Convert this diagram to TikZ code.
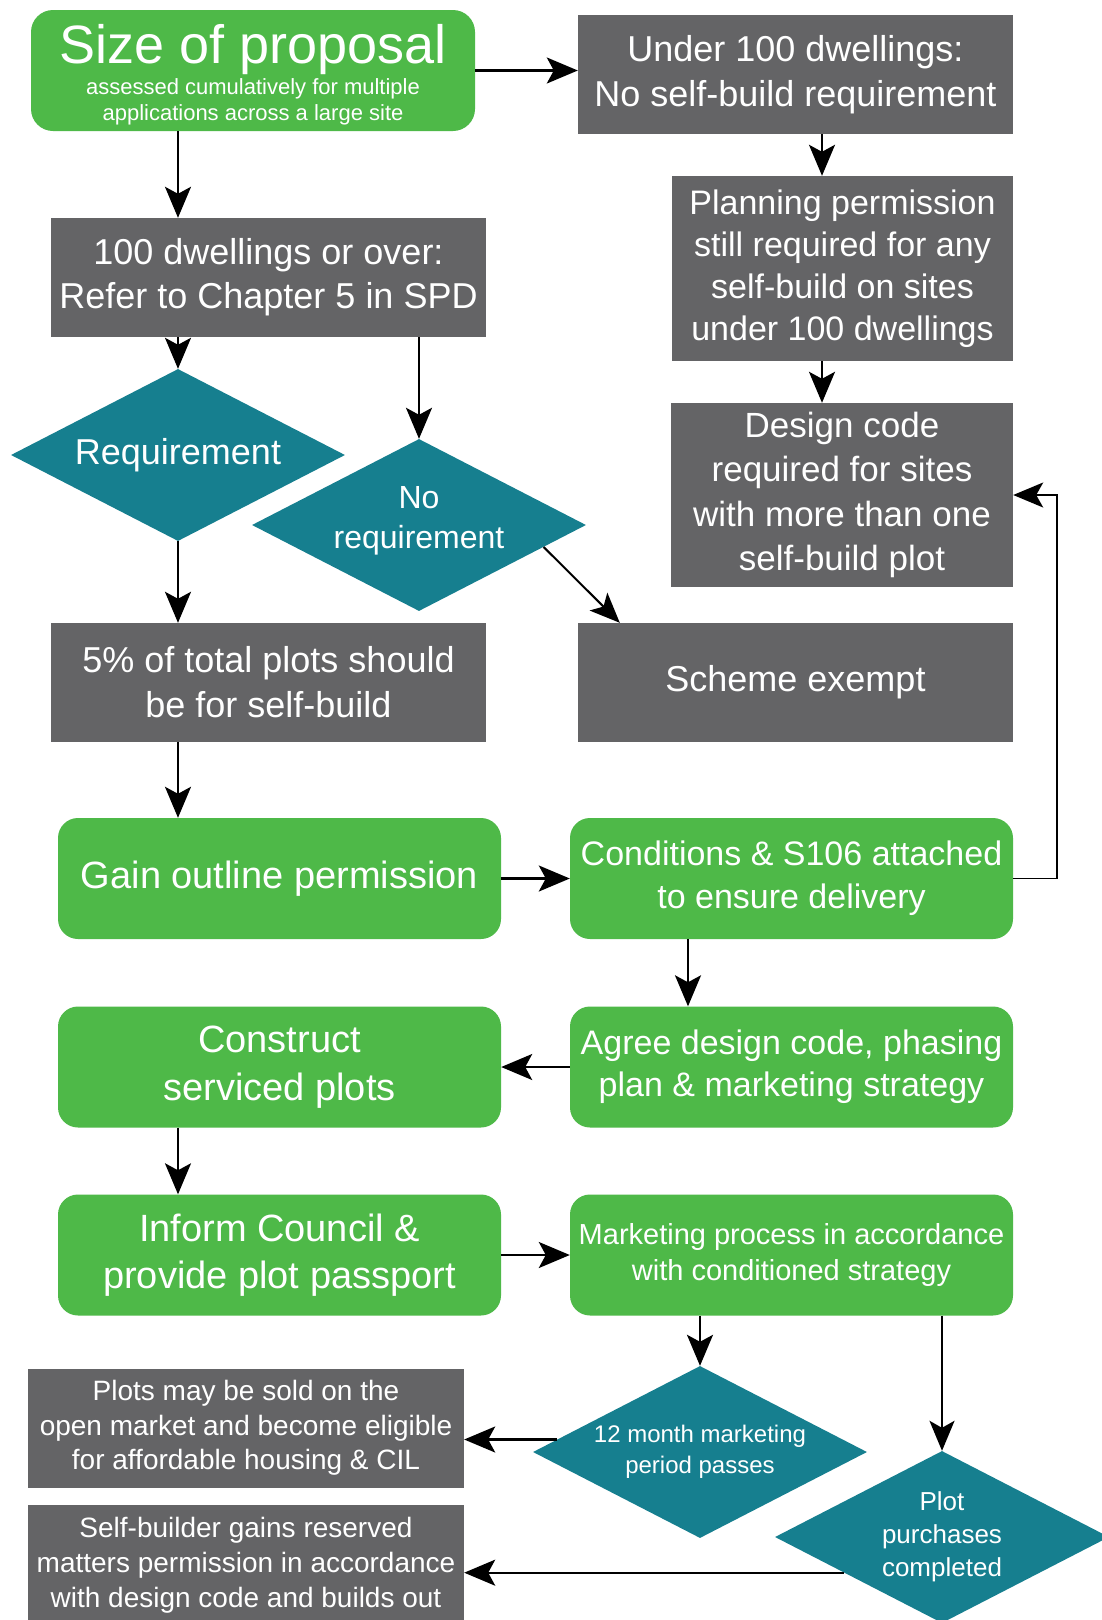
\documentclass[tikz,border=0pt]{standalone}
\usepackage{fontspec}
\setmainfont{Liberation Sans}
\usetikzlibrary{shapes.geometric,arrows.meta}
\definecolor{boxgreen}{RGB}{78,185,72}
\definecolor{boxgray}{RGB}{100,100,102}
\definecolor{boxteal}{RGB}{22,127,143}
\begin{document}
\begin{tikzpicture}[x=1pt,y=-1pt,
  base/.style={text=white, align=center, inner sep=0pt},
  graybox/.style={base, rectangle, fill=boxgray},
  greenbox/.style={base, rectangle, rounded corners=20pt, fill=boxgreen},
  decision/.style={base, diamond, aspect=2, fill=boxteal, minimum width=334pt, minimum height=172pt},
  flow/.style={-{Stealth[length=31pt,width=26pt,inset=7pt]}, line width=2.2pt},
  thinflow/.style={-{Stealth[length=30pt,width=25pt,inset=7pt]}, line width=1.6pt},
  wide/.style={minimum width=435pt, minimum height=119pt},
  gwide/.style={minimum width=443pt, minimum height=121pt},
  fs/.style 2 args={font=\fontsize{#1}{#2}\selectfont}
]
\path[use as bounding box, clip] (0,0) rectangle (1102,1620);
\fill[white] (0,0) rectangle (1102,1620);

% column coordinates
\coordinate (colA) at (822,0);
\coordinate (colC) at (688,0);
\coordinate (colL) at (178,0);

% top
\node[greenbox, rounded corners=22pt, minimum width=444pt, minimum height=121pt] (size) at (253,70.5) {};
\node[base, fs={54}{60}, anchor=base] (sizetitle) at (253,63) {Size of proposal};
\node[base, fs={22}{26}, anchor=base] (sizesub1) at (253,94) {assessed cumulatively for multiple};
\node[base, fs={22}{26}, anchor=base] (sizesub2) at (253,120) {applications across a large site};

\node[graybox, wide, fs={36}{45}] (under) at (795.5,74.5) {Under 100 dwellings:\\No self-build requirement};
\node[graybox, minimum width=341pt, minimum height=185pt, fs={34}{42}] (planning) at (842.5,268.5)
  {Planning permission\\still required for any\\self-build on sites\\under 100 dwellings};
\node[graybox, minimum width=342pt, minimum height=184pt, fs={35}{44.5}] (design) at (842,495)
  {Design code\\required for sites\\with more than one\\self-build plot};

\node[graybox, wide, fs={36}{44}] (hundred) at (268.5,277.5) {100 dwellings or over:\\Refer to Chapter 5 in SPD};
\node[decision, fs={36}{44}] (req) at (178,455) {Requirement};
\node[decision] (noreq) at (419,525) {};
\node[base, fs={32}{40}] (noreqtext) at (419,521) {No\\requirement};

\node[graybox, wide, fs={36}{45}] (five) at (268.5,682.5) {5\% of total plots should\\be for self-build};
\node[graybox, wide, fs={36}{44}] (scheme) at (795.5,682.5) {Scheme exempt};

\node[greenbox, gwide, fs={38}{47}] (gain) at (279.5,878.5) {Gain outline permission};
\node[greenbox, gwide, fs={34}{43}] (cond) at (791.5,878.5) {Conditions \& S106 attached\\to ensure delivery};

\node[greenbox, gwide, fs={38}{47.5}] (construct) at (279.5,1067) {Construct\\serviced plots};
\node[greenbox, gwide, fs={34}{42}] (agree) at (791.5,1067) {Agree design code, phasing\\plan \& marketing strategy};

\node[greenbox, gwide, fs={38}{47.5}] (inform) at (279.5,1255) {Inform Council \&\\provide plot passport};
\node[greenbox, gwide, fs={29}{36}] (market) at (791.5,1255) {Marketing process in accordance\\with conditioned strategy};

\node[graybox, minimum width=436pt, minimum height=119pt, fs={28}{34.5}] (sold) at (246,1428)
  {Plots may be sold on the\\open market and become eligible\\for affordable housing \& CIL};
\node[graybox, minimum width=436pt, minimum height=120pt, fs={28}{35}] (self) at (246,1565)
  {Self-builder gains reserved\\matters permission in accordance\\with design code and builds out};

\node[decision, fs={24}{31}] (month) at (700,1452) {12 month marketing\\period passes};
\node[decision, fs={26}{33}] (plot) at (942,1537) {Plot\\purchases\\completed};

% connectors
\draw[flow] (size.east) -- (size.east -| under.west);
\draw[flow] (size.south -| colL) -- (hundred.north -| colL);
\draw[flow] (under.south -| colA) -- (planning.north -| colA);
\draw[flow] (planning.south -| colA) -- (design.north -| colA);
\draw[flow] (hundred.south -| req) -- (req.north);
\draw[flow] (hundred.south -| noreq) -- (noreq.north);
\draw[flow] (req.south) -- (five.north -| req);
\draw[thinflow, line width=2pt] (noreq.350) -- ([xshift=42pt]scheme.north west);
\draw[flow] (five.south -| colL) -- (gain.north -| colL);
\draw[flow] (gain.east) -- (cond.west);
\draw[thinflow] (cond.east) -- ++(44,0) |- (design.east);
\draw[flow] (cond.south -| colC) -- (agree.north -| colC);
\draw[flow] (agree.west) -- (construct.east);
\draw[flow] (construct.south -| colL) -- (inform.north -| colL);
\draw[flow] (inform.east) -- (market.west);
\draw[flow] (market.south -| month) -- (month.north);
\draw[thinflow, line width=2pt] (market.south -| plot) -- (plot.north);
\draw[flow] (month.175) -- (month.175 -| sold.east);
\draw[flow] (plot.200) -- (plot.200 -| self.east);
\end{tikzpicture}
\end{document}
